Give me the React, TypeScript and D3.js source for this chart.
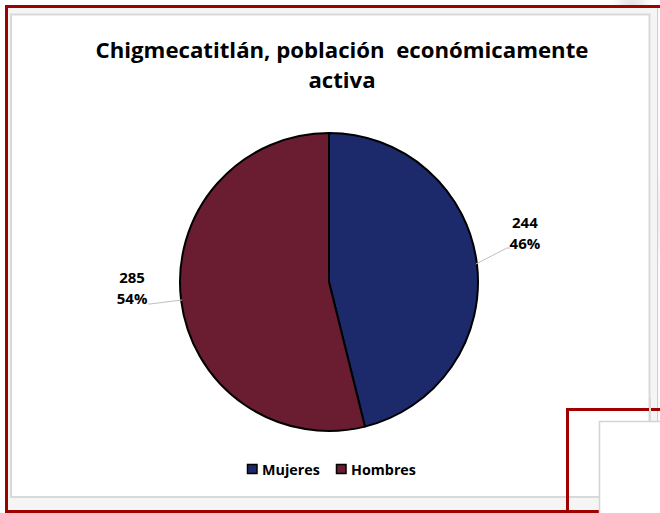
import React from "react";
import * as d3 from "d3";

const categories = ["Mujeres", "Hombres"];
const values = [244, 285];
const colors = ["#1c2a6c", "#6a1d30"];
const titleLines = ["Chigmecatitlán, población  económicamente", "activa"];

const W = 660;
const H = 513;
const cx = 329;
const cy = 282;
const R = 149;

export default function App() {
  const total = d3.sum(values);
  const pie = d3.pie<number>().sort(null).value((d) => d);
  const arcs = pie(values);
  const arc = d3.arc<d3.PieArcDatum<number>>().innerRadius(0).outerRadius(R);
  const fmtPct = (v: number) => d3.format(".0%")(v / total);

  const labelInfo = arcs.map((a, i) => {
    const mid = (a.startAngle + a.endAngle) / 2;
    const ex = cx + Math.sin(mid) * (R - 1);
    const ey = cy - Math.cos(mid) * (R - 1);
    const right = Math.sin(mid) > 0;
    const lx = right ? ex + 49 : ex - 50;
    const ly = right ? ey - 36 : ey - 17;
    const kx = right ? ex + 31 : ex - 32;
    const ky = right ? ey - 16 : ey + 4;
    return { ex, ey, lx, ly, kx, ky, right, i };
  });

  const font = "'Open Sans', sans-serif";

  return (
    <svg
      width={W}
      height={H}
      style={{ position: "fixed", left: 0, top: 0, display: "block" }}
    >
      <defs>
        <filter id="blur" x="-50%" y="-50%" width="200%" height="200%">
          <feGaussianBlur stdDeviation="6" />
        </filter>
      </defs>
      <rect x={0} y={0} width={W} height={H} fill="#ffffff" />
      <ellipse cx={632} cy={4} rx={14} ry={6} fill="#d8d8d8" filter="url(#blur)" />
      <ellipse cx={654} cy={215} rx={5} ry={40} fill="#dcdcdc" filter="url(#blur)" />
      <rect x={6.5} y={6.5} width={652} height={505} fill="#f5f5f5" />
      <line x1={657.5} y1={6} x2={657.5} y2={H} stroke="#e8c4c4" strokeWidth={1} />
      <line x1={5} y1={6.5} x2={W} y2={6.5} stroke="#a00000" strokeWidth={3} />
      <line x1={6.5} y1={5} x2={6.5} y2={H} stroke="#a00000" strokeWidth={3} />
      <line x1={5} y1={511.5} x2={600} y2={511.5} stroke="#a00000" strokeWidth={3} />
      <rect x={11} y={14.5} width={638.5} height={482.5} fill="#ffffff" stroke="#d9d9d9" strokeWidth={2} />

      {titleLines.map((t, i) => (
        <text
          key={i}
          x={342}
          y={58 + i * 30}
          textAnchor="middle"
          fontFamily={font}
          fontWeight="bold"
          fontSize={22.2}
          fill="#000"
          style={{ whiteSpace: "pre" }}
        >
          {t}
        </text>
      ))}

      <g transform={`translate(${cx},${cy})`}>
        {arcs.map((a, i) => (
          <path key={i} d={arc(a) || ""} fill={colors[i]} stroke="#000" strokeWidth={2} strokeLinejoin="round" />
        ))}
      </g>

      {labelInfo.map((l) => (
        <g key={l.i}>
          <polyline
            points={
              l.right
                ? `${l.ex},${l.ey} ${l.kx},${l.ky} ${l.kx + 3},${l.ky}`
                : `${l.ex},${l.ey} ${l.kx},${l.ky} ${l.kx - 2},${l.ky}`
            }
            fill="none"
            stroke="#bfbfbf"
            strokeWidth={1}
          />
          <text x={l.lx} y={l.ly} textAnchor="middle" fontFamily={font} fontWeight="bold" fontSize={15} fill="#000">
            {values[l.i]}
          </text>
          <text x={l.lx} y={l.ly + 21} textAnchor="middle" fontFamily={font} fontWeight="bold" fontSize={15} fill="#000">
            {fmtPct(values[l.i])}
          </text>
        </g>
      ))}

      {categories.map((c, i) => {
        const x0 = i === 0 ? 247 : 336;
        return (
          <g key={c}>
            <rect x={x0 + 0.5} y={464.5} width={9.5} height={9} fill={colors[i]} stroke="#000" strokeWidth={1.5} />
            <text x={x0 + 15} y={474.5} fontFamily={font} fontWeight="bold" fontSize={14.3} fill="#000">
              {c}
            </text>
          </g>
        );
      })}

      <line x1={567.5} y1={408} x2={567.5} y2={H} stroke="#a00000" strokeWidth={3} />
      <line x1={566} y1={409.5} x2={W} y2={409.5} stroke="#a00000" strokeWidth={3} />
      <line x1={650} y1={398} x2={650} y2={422} stroke="#d9d9d9" strokeWidth={2} />
      <rect x={599.5} y={421.5} width={80} height={120} fill="#ffffff" stroke="#d4d4d4" strokeWidth={1.5} />
    </svg>
  );
}
